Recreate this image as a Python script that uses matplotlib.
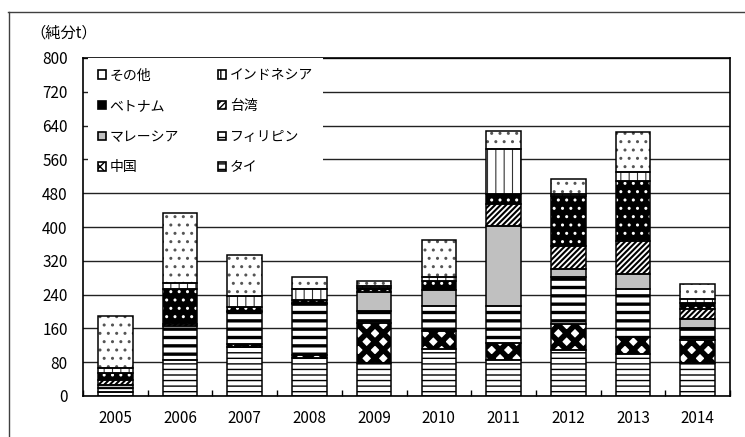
import matplotlib
matplotlib.use("Agg")
import matplotlib.pyplot as plt
from matplotlib.patches import Patch
from matplotlib.lines import Line2D
import numpy as np

plt.rcParams['font.family'] = ['Noto Sans CJK JP', 'DejaVu Sans']

# Imports by country (net weight, t), stacked bottom to top
years = ['2005', '2006', '2007', '2008', '2009', '2010', '2011', '2012', '2013', '2014']
thai = [10, 86, 117, 90, 78, 112, 86, 108, 100, 78]
china = [0, 0, 6, 6, 95, 43, 40, 62, 40, 54]
philippines = [8, 80, 76, 122, 28, 59, 87, 112, 114, 30]
malaysia = [9, 0, 0, 3, 45, 36, 190, 18, 35, 21]
taiwan = [11, 5, 2, 0, 0, 0, 52, 55, 77, 24]
vietnam = [17, 83, 10, 7, 10, 22, 22, 118, 144, 13]
indonesia = [11, 14, 25, 26, 5, 9, 108, 6, 20, 9]
others = [124, 164, 97, 27, 11, 88, 42, 34, 95, 35]

y_ticks = [0, 80, 160, 240, 320, 400, 480, 560, 640, 720, 800]

# name, values, face colour, hatch, hatch colour, hatch linewidth
layers = [
    ('タイ', thai, 'white', '---', 'black', 1.0),
    ('中国', china, 'white', 'xx', 'black', 4.0),
    ('フィリピン', philippines, 'white', '--', 'black', 2.4),
    ('マレーシア', malaysia, '#c0c0c0', None, '#c0c0c0', 1.0),
    ('台湾', taiwan, 'white', '//////', 'black', 1.5),
    ('ベトナム', vietnam, 'black', '..', 'white', 1.0),
    ('インドネシア', indonesia, 'white', '||', '#333333', 0.8),
    ('その他', others, 'white', '..', '#555555', 1.0),
]

fig = plt.figure(figsize=(7.45, 4.37), dpi=100)
ax = fig.add_axes([83 / 745, 1 - 396 / 437, 647 / 745, 338 / 437])

x = np.arange(len(years))
width = 0.535
bottom = np.zeros(len(years))
for name, vals, face, hatch, hcolor, hlw in layers:
    vals = np.array(vals, dtype=float)
    with plt.rc_context({'hatch.linewidth': hlw}):
        bars = ax.bar(x, vals, width, bottom=bottom, color=face, hatch=hatch,
                      edgecolor=hcolor, linewidth=0, zorder=2)
    for b in bars:
        if hasattr(b, 'set_hatch_linewidth'):
            b.set_hatch_linewidth(hlw)
    ax.bar(x, vals, width, bottom=bottom, fill=False, edgecolor='black',
           linewidth=[1.1 if v > 0 else 0 for v in vals], zorder=3)
    bottom += vals

ax.set_xlim(-0.5, len(years) - 0.5)
ax.set_ylim(0, 800)
ax.set_yticks(y_ticks)
ax.yaxis.grid(True, color='#222222', linewidth=1.0)
ax.set_axisbelow(True)
ax.tick_params(axis='y', length=0, pad=11, labelsize=11)

# category boundary ticks inside, labels centred under bars
ax.set_xticks(np.arange(-0.5, len(years), 1.0))
ax.set_xticklabels([])
ax.set_xticks(x, minor=True)
ax.set_xticklabels(years, minor=True)
ax.tick_params(axis='x', which='major', direction='in', length=4, width=1, color='black')
ax.tick_params(axis='x', which='minor', length=0, pad=10, labelsize=11)

for side in ['left', 'bottom', 'top', 'right']:
    ax.spines[side].set_color('black')
    ax.spines[side].set_linewidth(1.2)

# legend in two columns, read row by row from the top of the stack
order = ['その他', 'ベトナム', 'マレーシア', '中国', 'インドネシア', '台湾', 'フィリピン', 'タイ']
lookup = {l[0]: l for l in layers}
handles = []
for name in order:
    _, _, face, hatch, hcolor, hlw = lookup[name]
    if hcolor == 'white' or name == 'その他':
        hatch = None
    handles.append(Patch(facecolor=face, edgecolor='black', hatch=hatch, linewidth=1.2, label=name))
leg = ax.legend(handles=handles, ncol=2, loc='upper left', bbox_to_anchor=(0.007, 1),
                borderaxespad=0, frameon=True, fancybox=False, framealpha=1,
                facecolor='white', edgecolor='none', fontsize=10,
                handlelength=0.55, handleheight=0.55, handletextpad=0.3,
                labelspacing=1.2, columnspacing=2.8, borderpad=0.75)
leg.set_zorder(5)

fig.text(30 / 745, 1 - 33 / 437, '（純分t）', fontsize=11, ha='left', va='center')

# outer frame of the chart area
fig.add_artist(Line2D([8 / 745, 1.0], [1 - 12 / 437, 1 - 12 / 437], color='#404040', linewidth=1.0))
fig.add_artist(Line2D([8.5 / 745, 8.5 / 745], [1 - 12 / 437, 0.0], color='#404040', linewidth=1.0))

fig.savefig('out.png', dpi=100)
